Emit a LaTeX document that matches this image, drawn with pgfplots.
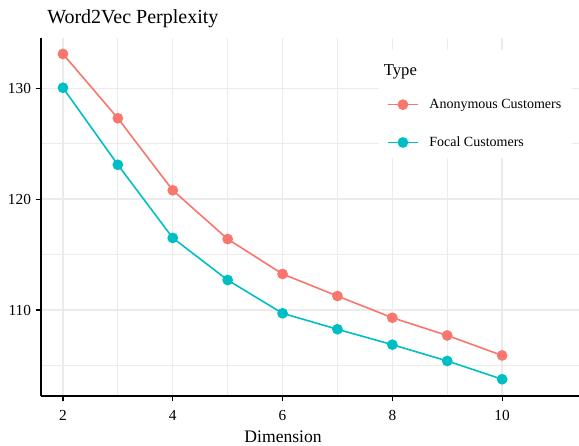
\documentclass[border=0pt]{standalone}
\usepackage{fontspec}
\setmainfont{Liberation Serif}
\usepackage{pgfplots}
\pgfplotsset{compat=1.18}

\definecolor{anon}{HTML}{F8766D}
\definecolor{focal}{HTML}{00BFC4}
\definecolor{gridc}{HTML}{EBEBEB}

\begin{document}
\begin{tikzpicture}
\useasboundingbox (0,0) rectangle (434.25pt,334.5pt);
% title
\node[anchor=base west, inner sep=0pt] at (35.25pt,317pt) {\fontsize{15}{18}\selectfont Word2Vec Perplexity};
\begin{axis}[
  at={(30.75pt,37.5pt)}, anchor=south west,
  scale only axis, width=403.5pt, height=268.5pt,
  xmin=1.6, xmax=11.4, ymin=102.24, ymax=134.54,
  axis lines=left,
  axis line style={-, line width=1.2pt, black},
  xtick={2,4,6,8,10}, minor xtick={3,5,7,9},
  ytick={110,120,130}, minor ytick={105,115,125},
  tick align=outside, major tick length=4pt, minor tick length=0pt,
  tick style={black, line width=0.9pt},
  grid=both,
  major grid style={gridc, line width=1.1pt},
  minor grid style={gridc, line width=0.6pt},
  /pgf/number format/assume math mode=true,
  ticklabel style={font=\fontsize{11.5}{13}\selectfont},
  xticklabel style={yshift=-3.5pt},
  xlabel={Dimension},
  xlabel style={at={(axis description cs:0.45,0)}, anchor=base, yshift=-35.25pt, font=\fontsize{13.2}{15}\selectfont},
  legend image code/.code={\draw[#1,mark repeat=2,mark phase=2] plot coordinates {(0pt,0pt) (11.25pt,0pt) (22.5pt,0pt)};},
  legend style={draw=none, fill=white, at={(axis description cs:0.628,0.966)}, anchor=north west,
    inner xsep=6pt, inner ysep=5pt, row sep=15.75pt,
    font=\fontsize{10.5}{12}\selectfont, cells={anchor=west},
    /tikz/every odd column/.append style={column sep=6pt}},
]
\addlegendimage{empty legend}
\addlegendentry{\hspace{-40.5pt}\raisebox{-3.75pt}[\height][\depth]{\fontsize{12.5}{14}\selectfont Type}}
\addplot[anon, line width=1.2pt, mark=*, mark size=3.4pt] coordinates {
  (2,133.1) (3,127.3) (4,120.8) (5,116.4) (6,113.25) (7,111.26) (8,109.3) (9,107.7) (10,105.9)
};
\addlegendentry{Anonymous Customers}
\addplot[focal, line width=1.2pt, mark=*, mark size=3.4pt] coordinates {
  (2,130.05) (3,123.1) (4,116.5) (5,112.7) (6,109.7) (7,108.26) (8,106.87) (9,105.4) (10,103.75)
};
\addlegendentry{Focal Customers}
\end{axis}
\end{tikzpicture}
\end{document}
